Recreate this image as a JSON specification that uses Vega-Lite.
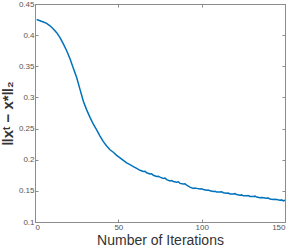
{
  "$schema": "https://vega.github.io/schema/vega-lite/v6.json",
  "width": 250,
  "height": 218,
  "autosize": {"type": "none"},
  "padding": {"left": 35, "top": 4, "right": 6, "bottom": 30},
  "config": {
    "view": {"stroke": "#8c8c8c", "strokeWidth": 1},
    "axis": {
      "domainColor": "#8c8c8c",
      "tickColor": "#8c8c8c",
      "grid": false,
      "tickSize": -3,
      "labelColor": "#555555",
      "labelFont": "Liberation Sans",
      "labelFontSize": 8,
      "titleFont": "Liberation Sans",
      "titleFontWeight": "normal",
      "titleColor": "#333333"
    }
  },
  "data": {"values": [
    {"it": 1, "err": 0.425}, {"it": 3, "err": 0.423}, {"it": 5, "err": 0.421}, {"it": 7, "err": 0.419},
    {"it": 9, "err": 0.415}, {"it": 11, "err": 0.410}, {"it": 13, "err": 0.404}, {"it": 15, "err": 0.396},
    {"it": 17, "err": 0.386}, {"it": 19, "err": 0.375}, {"it": 21, "err": 0.362}, {"it": 23, "err": 0.347},
    {"it": 25, "err": 0.332}, {"it": 27, "err": 0.313}, {"it": 29, "err": 0.294}, {"it": 31, "err": 0.280},
    {"it": 33, "err": 0.268}, {"it": 35, "err": 0.257}, {"it": 37, "err": 0.248}, {"it": 39, "err": 0.238},
    {"it": 41, "err": 0.229}, {"it": 43, "err": 0.222}, {"it": 45, "err": 0.216}, {"it": 47, "err": 0.212},
    {"it": 49, "err": 0.207}, {"it": 51, "err": 0.203}, {"it": 53, "err": 0.199}, {"it": 55, "err": 0.195},
    {"it": 57, "err": 0.192}, {"it": 59, "err": 0.189}, {"it": 61, "err": 0.186}, {"it": 63, "err": 0.183},
    {"it": 65, "err": 0.181}, {"it": 66, "err": 0.1815}, {"it": 67, "err": 0.179}, {"it": 69, "err": 0.177},
    {"it": 70, "err": 0.1775}, {"it": 71, "err": 0.175}, {"it": 73, "err": 0.173}, {"it": 74, "err": 0.1735},
    {"it": 75, "err": 0.172}, {"it": 77, "err": 0.170}, {"it": 78, "err": 0.1705}, {"it": 79, "err": 0.168},
    {"it": 81, "err": 0.166}, {"it": 82, "err": 0.1665}, {"it": 83, "err": 0.165}, {"it": 85, "err": 0.164},
    {"it": 86, "err": 0.1645}, {"it": 87, "err": 0.162}, {"it": 89, "err": 0.161}, {"it": 90, "err": 0.1612},
    {"it": 91, "err": 0.159}, {"it": 93, "err": 0.156}, {"it": 95, "err": 0.154}, {"it": 96, "err": 0.1545},
    {"it": 97, "err": 0.154}, {"it": 99, "err": 0.153}, {"it": 100, "err": 0.1535}, {"it": 101, "err": 0.152},
    {"it": 103, "err": 0.151}, {"it": 104, "err": 0.1515}, {"it": 105, "err": 0.150}, {"it": 107, "err": 0.149},
    {"it": 108, "err": 0.1495}, {"it": 109, "err": 0.148}, {"it": 111, "err": 0.148}, {"it": 112, "err": 0.1485},
    {"it": 113, "err": 0.147}, {"it": 115, "err": 0.146}, {"it": 116, "err": 0.1465}, {"it": 117, "err": 0.145},
    {"it": 119, "err": 0.145}, {"it": 120, "err": 0.1455}, {"it": 121, "err": 0.144}, {"it": 123, "err": 0.143},
    {"it": 124, "err": 0.1435}, {"it": 125, "err": 0.142}, {"it": 127, "err": 0.142}, {"it": 128, "err": 0.1425},
    {"it": 129, "err": 0.141}, {"it": 131, "err": 0.141}, {"it": 132, "err": 0.1415}, {"it": 133, "err": 0.140},
    {"it": 135, "err": 0.139}, {"it": 136, "err": 0.1395}, {"it": 137, "err": 0.139}, {"it": 139, "err": 0.138},
    {"it": 140, "err": 0.1385}, {"it": 141, "err": 0.137}, {"it": 143, "err": 0.136}, {"it": 144, "err": 0.1365},
    {"it": 145, "err": 0.136}, {"it": 147, "err": 0.135}, {"it": 148, "err": 0.1355}, {"it": 149, "err": 0.134},
    {"it": 150, "err": 0.135}
  ]},
  "layer": [
    {
      "mark": {"type": "line", "color": "#0072BD", "strokeWidth": 1.5},
      "encoding": {
        "x": {"field": "it", "type": "quantitative", "scale": {"domain": [0, 150], "nice": false},
              "axis": {"values": [0, 50, 100, 150], "title": "Number of Iterations", "titleFontSize": 14, "titlePadding": 2, "labelPadding": 4}},
        "y": {"field": "err", "type": "quantitative", "scale": {"domain": [0.1, 0.45], "nice": false, "zero": false},
              "axis": {"values": [0.1, 0.15, 0.2, 0.25, 0.3, 0.35, 0.4, 0.45], "format": ".2~f", "title": "‖xᵗ − x*‖₂", "titleFontSize": 15, "titleFontWeight": "bold", "titlePadding": 3, "labelPadding": 4}}
      }
    },
    {
      "mark": {"type": "line", "opacity": 0},
      "encoding": {
        "x": {"field": "it", "type": "quantitative", "scale": {"domain": [0, 150], "nice": false},
              "axis": {"orient": "top", "values": [0, 50, 100, 150], "labels": false, "title": null}},
        "y": {"field": "err", "type": "quantitative", "scale": {"domain": [0.1, 0.45], "nice": false, "zero": false},
              "axis": {"orient": "right", "values": [0.1, 0.15, 0.2, 0.25, 0.3, 0.35, 0.4, 0.45], "labels": false, "title": null}}
      }
    }
  ],
  "resolve": {"axis": {"x": "independent", "y": "independent"}}
}
